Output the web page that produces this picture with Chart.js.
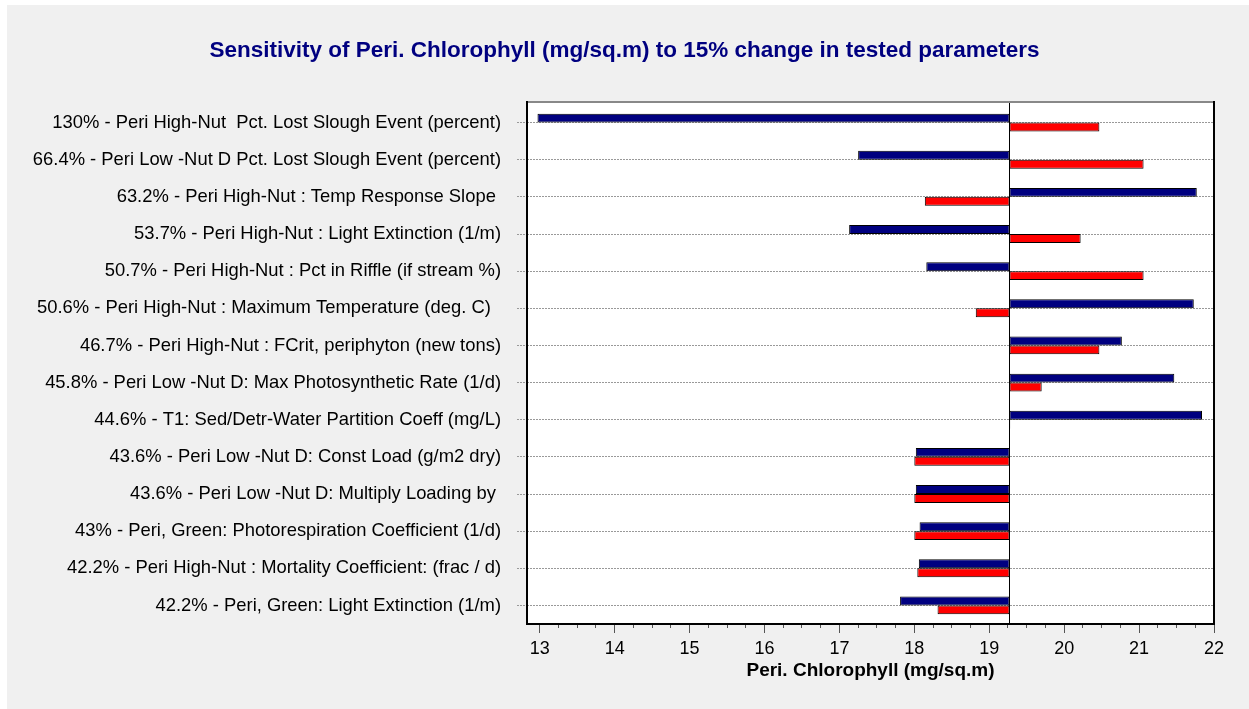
<!DOCTYPE html>
<html lang="en">
<head>
    <meta charset="UTF-8">
    <title>Sensitivity of Peri. Chlorophyll</title>
    <script src="https://cdn.jsdelivr.net/npm/chart.js"></script>
    <style>
        body { margin: 0; background: #ffffff; }
        #wrap { width: 1249px; height: 709px; }
    </style>
</head>
<body>
    <div id="wrap">
        <canvas id="tornado" width="1249" height="709"></canvas>
    </div>

    <script>
        // parameter names (sorted by sensitivity)
        const paramLabels = [
            '130% - Peri High-Nut  Pct. Lost Slough Event (percent)',
            '66.4% - Peri Low -Nut D Pct. Lost Slough Event (percent)',
            '63.2% - Peri High-Nut : Temp Response Slope ',
            '53.7% - Peri High-Nut : Light Extinction (1/m)',
            '50.7% - Peri High-Nut : Pct in Riffle (if stream %)',
            '50.6% - Peri High-Nut : Maximum Temperature (deg. C)  ',
            '46.7% - Peri High-Nut : FCrit, periphyton (new tons)',
            '45.8% - Peri Low -Nut D: Max Photosynthetic Rate (1/d)',
            '44.6% - T1: Sed/Detr-Water Partition Coeff (mg/L)',
            '43.6% - Peri Low -Nut D: Const Load (g/m2 dry)',
            '43.6% - Peri Low -Nut D: Multiply Loading by ',
            '43% - Peri, Green: Photorespiration Coefficient (1/d)',
            '42.2% - Peri High-Nut : Mortality Coefficient: (frac / d)',
            '42.2% - Peri, Green: Light Extinction (1/m)'
        ];

        // result of the base run
        const baseValue = 19.27;

        // blue bars (upper) and red bars (lower)
        const blueValues = [12.97, 17.25, 21.77, 17.13, 18.16, 21.73, 20.77, 21.47, 21.84, 18.02, 18.02, 18.07, 18.06, 17.81];
        const redValues  = [20.47, 21.06, 18.14, 20.22, 21.06, 18.82, 20.47, 19.70, 19.28, 18.00, 18.00, 18.00, 18.04, 18.31];

        // x axis: labelled ticks, with 3 minor ticks between each
        const xTickLabels = [13, 14, 15, 16, 17, 18, 19, 20, 21, 22];
        const xMin = 12.83;
        const xMax = 22;

        const isWhole = v => Math.abs(v - Math.round(v)) < 1e-6;
        const FONT = 'Liberation Sans, Arial, sans-serif';

        // gray panel, white plot area, frame and base line
        const framePlugin = {
            id: 'frame',
            beforeDraw(chart) {
                const ctx = chart.ctx;
                const a = chart.chartArea;
                ctx.save();
                ctx.fillStyle = '#ffffff';
                ctx.fillRect(0, 0, chart.width, chart.height);
                ctx.fillStyle = '#f0f0f0';
                ctx.fillRect(7, 5, chart.width - 7, chart.height - 5);
                ctx.fillStyle = '#ffffff';
                ctx.fillRect(a.left, a.top - 2, a.right - a.left, a.bottom - a.top + 2);
                ctx.restore();
            },
            afterDatasetsDraw(chart) {
                const ctx = chart.ctx;
                const a = chart.chartArea;
                const x = Math.round(chart.scales.x.getPixelForValue(baseValue)) + 0.5;
                ctx.save();
                ctx.strokeStyle = '#000000';
                ctx.lineWidth = 1;
                ctx.beginPath();
                ctx.moveTo(x, a.top - 2);
                ctx.lineTo(x, a.bottom);
                ctx.stroke();

                ctx.lineWidth = 2;
                ctx.strokeStyle = '#888888';
                ctx.beginPath();
                ctx.moveTo(a.left, a.top - 2);
                ctx.lineTo(a.right, a.top - 2);
                ctx.stroke();

                ctx.strokeStyle = '#000000';
                ctx.beginPath();
                ctx.moveTo(a.right, a.top - 3);
                ctx.lineTo(a.right, a.bottom);
                ctx.lineTo(a.left, a.bottom);
                ctx.lineTo(a.left, a.top - 3);
                ctx.stroke();
                ctx.restore();
            }
        };

        const ctx = document.getElementById('tornado').getContext('2d');
        const tornado = new Chart(ctx, {
            type: 'bar',
            data: {
                labels: paramLabels,
                datasets: [{
                    label: 'low',
                    data: blueValues.map(v => [baseValue, v]),
                    backgroundColor: '#000080',
                    borderColor: '#000000',
                    borderWidth: 1,
                    borderSkipped: false
                }, {
                    label: 'high',
                    data: redValues.map(v => [baseValue, v]),
                    backgroundColor: '#ff0000',
                    borderColor: '#000000',
                    borderWidth: 1,
                    borderSkipped: false
                }]
            },
            options: {
                indexAxis: 'y',
                responsive: false,
                animation: false,
                layout: { padding: 0 },
                datasets: {
                    bar: { categoryPercentage: 0.48, barPercentage: 1.0 }
                },
                plugins: {
                    legend: { display: false },
                    tooltip: { enabled: false },
                    title: {
                        display: true,
                        text: 'Sensitivity of Peri. Chlorophyll (mg/sq.m) to 15% change in tested parameters',
                        color: '#000080',
                        font: { family: FONT, size: 22.5, weight: 'bold' },
                        padding: { top: 37, bottom: 40 }
                    }
                },
                scales: {
                    x: {
                        type: 'linear',
                        min: xMin,
                        max: xMax,
                        afterBuildTicks: scale => {
                            const ticks = [];
                            xTickLabels.forEach((v, i) => {
                                ticks.push({ value: v });
                                if (i < xTickLabels.length - 1) {
                                    [0.25, 0.5, 0.75].forEach(f => ticks.push({ value: v + f }));
                                }
                            });
                            scale.ticks = ticks;
                        },
                        afterFit: scale => { scale.height = 85; },
                        ticks: {
                            autoSkip: false,
                            maxRotation: 0,
                            padding: 5,
                            color: '#000000',
                            font: { family: FONT, size: 18 },
                            callback: v => isWhole(v) ? String(Math.round(v)) : ''
                        },
                        grid: {
                            drawOnChartArea: false,
                            tickLength: 9,
                            tickColor: '#555555',
                            tickBorderDash: c => (c.tick && isWhole(c.tick.value)) ? [] : [4, 100]
                        },
                        border: { display: false },
                        title: {
                            display: true,
                            text: 'Peri. Chlorophyll (mg/sq.m)',
                            color: '#000000',
                            font: { family: FONT, size: 19, weight: 'bold' },
                            padding: { top: 0, bottom: 27 }
                        }
                    },
                    y: {
                        afterFit: scale => { scale.width = 527; },
                        ticks: {
                            padding: 16,
                            color: '#000000',
                            autoSkip: false,
                            font: { family: FONT, size: 18.4 }
                        },
                        grid: {
                            offset: false,
                            color: '#999999',
                            tickLength: 10,
                            tickColor: '#999999',
                            tickBorderDash: [2, 1]
                        },
                        border: { display: false, dash: [2, 1] }
                    },
                    // empty right-hand margin so the title centres on the whole panel
                    yRight: {
                        axis: 'y',
                        type: 'category',
                        position: 'right',
                        afterFit: scale => { scale.width = 35; },
                        ticks: { display: false },
                        grid: { display: false },
                        border: { display: false }
                    }
                }
            },
            plugins: [framePlugin]
        });
    </script>
</body>
</html>
